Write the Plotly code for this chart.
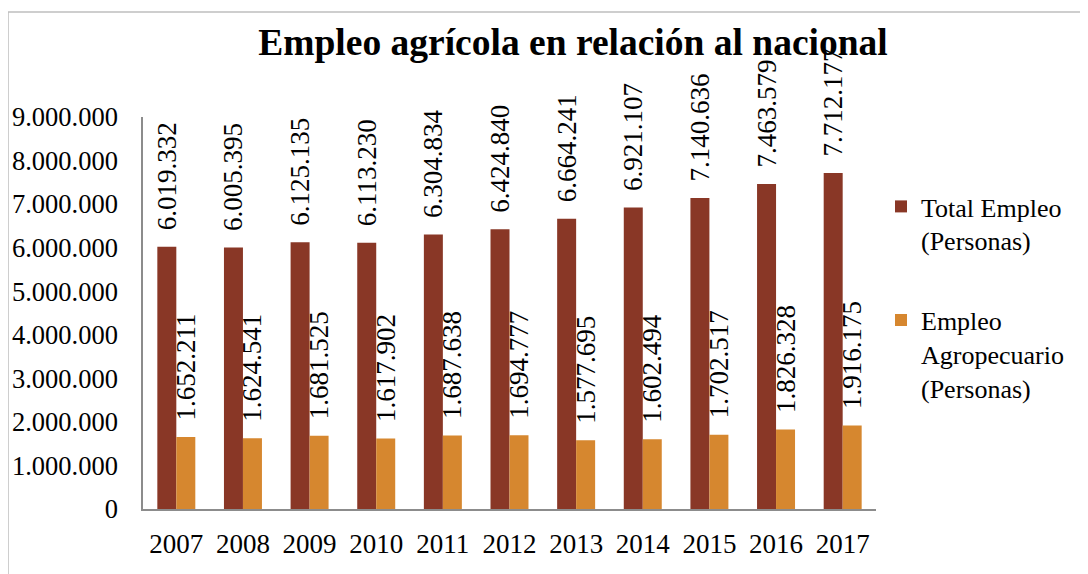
import plotly.graph_objects as go

years = ["2007", "2008", "2009", "2010", "2011", "2012", "2013", "2014", "2015", "2016", "2017"]
total_empleo = [6019332, 6005395, 6125135, 6113230, 6304834, 6424840, 6664241, 6921107, 7140636, 7463579, 7712177]
empleo_agro = [1652211, 1624541, 1681525, 1617902, 1687638, 1694777, 1577695, 1602494, 1702517, 1826328, 1916175]
tick_vals = [0, 1000000, 2000000, 3000000, 4000000, 5000000, 6000000, 7000000, 8000000, 9000000]

FONT = "Liberation Serif, Times New Roman, serif"
DARK = "#893726"
ORANGE = "#D6872F"
NB = "\u00a0\u00a0"

fig = go.Figure()
fig.add_trace(go.Bar(
    x=years, y=total_empleo, name="Total Empleo<br>(Personas)",
    marker=dict(color=DARK, line=dict(width=0)),
    texttemplate=NB + "%{y:,d}", textposition="outside", textangle=-90,
    textfont=dict(family=FONT, size=27, color="#000000"),
    cliponaxis=False, constraintext="none", legendgroup="a",
))
fig.add_trace(go.Bar(
    x=years, y=empleo_agro, name="Empleo<br>Agropecuario<br>(Personas)",
    marker=dict(color=ORANGE, line=dict(width=0)),
    texttemplate=NB + "%{y:,d}", textposition="outside", textangle=-90,
    textfont=dict(family=FONT, size=27, color="#000000"),
    cliponaxis=False, constraintext="none", legendgroup="b",
))

OFF = 8  # browser body margin
W, H = 1088 - OFF, 574 - OFF
# plot area in page coordinates
PL, PR, PT, PB = 143, 876, 117, 509
L, T = PL - OFF, PT - OFF
R = W - (PR - OFF)
B = H - (PB - OFF)
pw, ph = W - L - R, H - T - B


def px(xp):
    return (xp - OFF - L) / pw


def py(yp):
    return (PB - yp) / ph


fig.update_layout(
    width=W, height=H,
    margin=dict(l=L, r=R, t=T, b=B, autoexpand=False),
    paper_bgcolor="white", plot_bgcolor="white",
    separators=",.",
    font=dict(family=FONT, size=26, color="#000000"),
    barmode="group", bargap=0.43, bargroupgap=0,
    title=dict(text="<b>Empleo agrícola en relación al nacional</b>",
               x=(573 - OFF) / W, xanchor="center", y=1 - (42 - OFF) / H, yanchor="middle",
               font=dict(family=FONT, size=37.5, color="#000000")),
    legend=dict(x=px(881), xanchor="left", y=py(183), yanchor="top",
                traceorder="grouped", tracegroupgap=43, valign="top",
                font=dict(family=FONT, size=26, color="#000000"),
                itemwidth=30, bgcolor="rgba(0,0,0,0)"),
    showlegend=True,
    xaxis=dict(showline=True, linecolor="#8C8C8C", linewidth=1.5, ticks="",
               ticklabelstandoff=10,
               tickfont=dict(family=FONT, size=27), showgrid=False),
    yaxis=dict(range=[0, 9000000], tickvals=tick_vals, tickformat=",d",
               showline=True, linecolor="#8C8C8C", linewidth=1.5, ticks="",
               showgrid=False, zeroline=False, ticklabelstandoff=18,
               tickfont=dict(family=FONT, size=26.5)),
    shapes=[dict(type="rect", xref="paper", yref="paper",
                 x0=px(8), x1=px(1095), y0=py(580), y1=py(12),
                 line=dict(color="#BFBFBF", width=1.5), fillcolor="rgba(0,0,0,0)",
                 layer="below")],
)

fig.write_html("out.html")
